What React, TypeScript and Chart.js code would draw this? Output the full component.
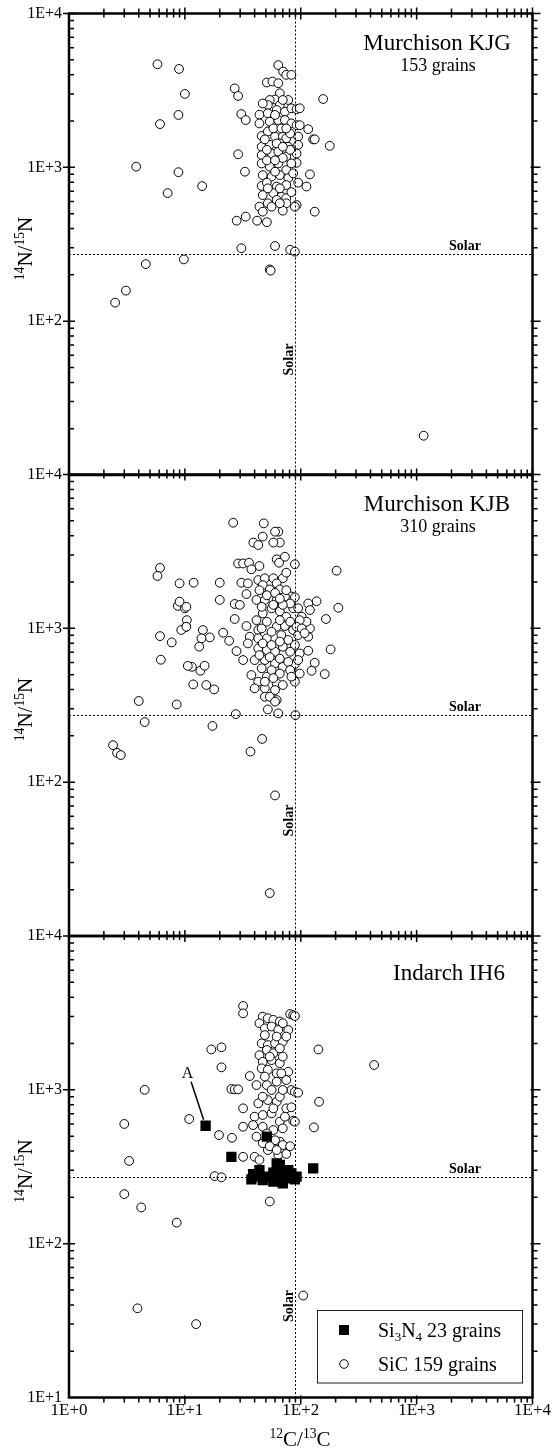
import { useEffect, useRef } from 'react';
import { Chart, registerables } from 'chart.js';

Chart.register(...registerables);

type Pt = [number, number];

const W = 553;
const H = 1451;
const PLOT_LEFT = 69;
const PLOT_RIGHT = 532.5;
const PANEL_TOPS = [13.5, 474.5, 936];
const PANEL_H = 461.5;
const FONT = '"Liberation Serif", "Times New Roman", serif';

const xTickValues = [1, 10, 100, 1000, 10000];
const xTickLabels = ['1E+0', '1E+1', '1E+2', '1E+3', '1E+4'];
const yTickValues = [10, 100, 1000, 10000];
const yTickLabels = ['1E+1', '1E+2', '1E+3', '1E+4'];
const solarC = 89;
const solarN = 272;

// Murchison KJG, SiC grains [12C/13C, 14N/15N]
const kjgSiC: Pt[] = [
  [5.8, 4680], [8.9, 4360], [10, 3000], [8.8, 2190], [6.1, 1910], [3.8, 1010], [8.8, 930], [7.1, 680],
  [4.6, 235], [9.8, 252], [3.1, 158], [2.5, 132], [14.1, 755], [1150, 18],
  [64, 4620], [70.5, 4190], [75, 3990], [83, 3990], [51, 3560], [57, 3610], [64, 3520], [26.9, 3260],
  [28.8, 2910], [66, 3030], [156, 2780], [60, 2760], [54, 2740], [78, 2740], [52, 2540], [66, 2540],
  [30.7, 2220], [33.5, 2030], [44, 2200], [52, 2245], [62, 2360], [73, 2300], [83, 2420], [92, 2390],
  [98, 2420], [44, 1930], [54, 1980], [64, 2030], [73, 2030], [83, 1930], [92, 1880], [98, 1880],
  [116, 1770], [46, 1600], [52, 1710], [60, 1585], [70, 1585], [75, 1545], [95, 1585], [128, 1520],
  [132, 1520], [46, 1360], [54, 1400], [66, 1430], [78, 1360], [95, 1400], [178, 1380], [46, 1200],
  [56, 1230], [64, 1265], [75, 1175], [92, 1230], [28.8, 1216], [46, 1060], [54, 1010], [64, 1060],
  [75, 960], [92, 1070], [33, 937], [47, 890], [56, 870], [66, 890], [78, 850], [86, 914], [120, 900],
  [46, 757], [51, 795], [62, 750], [75, 767], [95, 795], [112, 750], [47, 660], [58, 680], [68, 645],
  [75, 630], [44, 555], [52, 584], [62, 614], [75, 584], [92, 569], [89, 555], [47, 515], [70, 523],
  [132, 515], [28, 450], [33.5, 478], [42, 450], [51, 440], [30.7, 298], [60, 308], [81, 291], [89, 283],
  [54, 217], [55, 213], [49, 1520], [58, 1790], [68, 1790], [51, 1110], [70, 1150], [60, 937], [52, 730],
  [66, 730], [83, 690], [56, 555], [66, 584], [81, 1660], [81, 1300], [83, 1060], [47, 2600], [70, 2740],
  [60, 2190], [75, 1790], [62, 1430], [70, 1360], [51, 1300], [60, 1110],
];

// Murchison KJB, SiC grains
const kjbSiC: Pt[] = [
  [26.1, 4860], [48, 4810], [64, 4250], [60, 4250], [66, 3610], [58, 3610], [47, 3950], [39, 3610],
  [43, 3480], [28.8, 2640], [31.8, 2640], [35.8, 2670], [44, 2540], [62, 2810], [73, 2920], [65, 2670],
  [89, 2610], [37.5, 2420], [204, 2370], [11.9, 1980], [20, 1980], [30.7, 1980], [35, 1960], [43, 2060],
  [49, 2115], [58, 2115], [70, 2115], [75, 2300], [47, 1910], [62, 1960], [34, 1670], [44, 1770],
  [54, 1790], [66, 1790], [83, 1610], [89, 1590], [41.5, 1530], [49, 1530], [62, 1530], [73, 1610],
  [20, 1530], [26.9, 1440], [29.8, 1420], [137, 1500], [116, 1450], [211, 1360], [86, 1350], [102, 1190],
  [120, 1315], [165, 1150], [26.9, 1150], [14.3, 975], [16.4, 873], [13.9, 861], [13.3, 760], [21.4, 936],
  [24.1, 830], [34, 1035], [27.9, 711], [31.8, 622], [36.3, 882], [35, 798], [43, 975], [51, 861],
  [62, 1024], [73, 1035], [86, 975], [95, 904], [116, 882], [120, 998], [112, 1104], [43, 741], [51, 722],
  [60, 704], [70, 759], [89, 779], [98, 687], [116, 715], [181, 730], [40, 622], [49, 622], [60, 591],
  [70, 562], [89, 586], [132, 597], [124, 530], [161, 504], [37.5, 497], [43, 450], [51, 485], [62, 439],
  [70, 428], [89, 504], [89, 450], [40, 407], [49, 407], [60, 397], [11.8, 432], [15.3, 428], [17.9, 401],
  [11.5, 562], [13.6, 530], [14.8, 571], [49, 359], [62, 342], [52, 297], [27.5, 277], [64, 280], [90, 273],
  [17.3, 232], [46.4, 191], [36.8, 158], [60, 82], [54, 19],
  [47, 1250], [56, 1350], [66, 1290], [75, 1190], [41.5, 1130], [51, 1104], [66, 1130], [81, 1104],
  [46, 998], [56, 950], [68, 904], [78, 840], [43, 861], [47, 798], [56, 779], [66, 820], [81, 704],
  [44, 670], [54, 650], [66, 635], [78, 605], [46, 550], [56, 535], [66, 508], [81, 535], [49, 450],
  [58, 475], [54, 359], [60, 334], [51, 1640], [60, 1700], [75, 1770], [81, 1450], [70, 1420], [58, 1420],
  [46, 1380], [66, 1560], [95, 1350], [98, 1130], [92, 1024], [95, 622], [83, 485], [98, 508], [102, 998],
  [108, 930],
  [6.1, 2470], [5.8, 2190], [9, 1960], [8.7, 1400], [10, 1350], [10.4, 1130], [10.2, 1020], [6.1, 890],
  [7.7, 810], [6.2, 625], [10.6, 570], [4.0, 337], [4.5, 246], [8.5, 320], [2.4, 174], [2.6, 155],
  [2.8, 150], [9, 1490], [10.3, 1380], [9.3, 975], [10.3, 1024],
];

// Indarch IH6, SiC grains
const ih6SiC: Pt[] = [
  [31.8, 3510], [31.8, 3140], [47, 2990], [52, 2920], [58, 2850], [44, 2710], [66, 2780], [81, 3110],
  [86, 3060], [89, 3020], [49, 2510], [56, 2580], [64, 2450], [78, 2450], [70, 2710], [16.9, 1830],
  [20.7, 1890], [142, 1830], [46, 2005], [52, 1955], [60, 2005], [70, 2060], [44, 1680], [51, 1815],
  [58, 1730], [66, 1860], [20.7, 1400], [47, 1520], [56, 1560], [66, 1490], [78, 1310], [46, 1380],
  [52, 1350], [62, 1280], [36.3, 1230], [41.5, 1074], [51, 1074], [62, 1129], [75, 1158], [83, 997],
  [89, 972], [95, 958], [25.2, 1012], [26.9, 1007], [28.8, 1007], [43, 817], [52, 858], [62, 837],
  [75, 758], [66, 902], [144, 837], [31.8, 758], [40, 669], [47, 686], [56, 703], [66, 621], [86, 630],
  [89, 621], [10.9, 646], [31.8, 576], [38.8, 590], [47, 576], [58, 548], [70, 562], [130, 570],
  [19.7, 508], [25.5, 488], [41.5, 496], [66, 460], [70, 438], [31.8, 367], [40, 367], [44, 350],
  [52, 406], [64, 377], [75, 383], [18.1, 275], [20.7, 270], [54, 188], [8.5, 137],
  [49, 2270], [62, 2220], [75, 2220], [54, 1644], [70, 1644], [49, 1220], [68, 1280], [56, 997], [70, 997],
  [47, 902], [58, 758], [51, 520], [60, 470], [47, 450], [54, 430], [62, 406], [81, 430], [73, 669],
  [83, 770],
  [3.0, 600], [3.3, 345], [4.5, 1000], [3.0, 210], [4.2, 172], [3.9, 38], [12.5, 30], [105, 46],
  [430, 1450],
];

// Indarch IH6, Si3N4 grains
const ih6Si3N4: Pt[] = [
  [15.1, 584], [51, 496], [25.2, 367], [128, 309], [44, 301], [37.5, 262], [41.5, 273], [62, 333],
  [66, 325], [70, 294], [78, 301], [83, 286], [92, 273], [58, 253], [70, 247], [52, 273], [64, 273],
  [75, 266], [89, 262], [47, 259], [58, 289], [66, 259], [38.8, 283],
];
const grainA: Pt = [15.1, 584];

type Part = { t: string; s?: 'sup' | 'sub' };

function drawRich(ctx: CanvasRenderingContext2D, parts: Part[], x: number, y: number, size: number, align: 'left' | 'center', weight = '') {
  let w = 0;
  for (const p of parts) {
    ctx.font = `${weight}${p.s ? size * 0.65 : size}px ${FONT}`;
    w += ctx.measureText(p.t).width;
  }
  let cx = align === 'center' ? x - w / 2 : x;
  ctx.textAlign = 'left';
  ctx.textBaseline = 'alphabetic';
  for (const p of parts) {
    const fs = p.s ? size * 0.65 : size;
    ctx.font = `${weight}${fs}px ${FONT}`;
    const dy = p.s === 'sup' ? -size * 0.38 : p.s === 'sub' ? size * 0.22 : 0;
    ctx.fillText(p.t, cx, y + dy);
    cx += ctx.measureText(p.t).width;
  }
}

interface PanelDef {
  key: string;
  top: number;
  title: string;
  titleX: number;
  titleRel: number;
  subtitle?: string;
  subRel?: number;
  bottomAxis: boolean;
  solarVRel: number;
  legend: boolean;
}

const panels: PanelDef[] = [
  { key: 'kjg', top: PANEL_TOPS[0], title: 'Murchison KJG', titleX: 437, titleRel: 36, subtitle: '153 grains', subRel: 57, bottomAxis: false, solarVRel: 346, legend: false },
  { key: 'kjb', top: PANEL_TOPS[1], title: 'Murchison KJB', titleX: 437, titleRel: 36, subtitle: '310 grains', subRel: 57, bottomAxis: false, solarVRel: 346, legend: false },
  { key: 'ih6', top: PANEL_TOPS[2], title: 'Indarch IH6', titleX: 449, titleRel: 44, bottomAxis: true, solarVRel: 370, legend: true },
];

function makePlugin(p: PanelDef) {
  return {
    id: 'decor_' + p.key,
    afterDatasetsDraw(chart: any) {
      const ctx: CanvasRenderingContext2D = chart.ctx;
      const xs = chart.scales.x;
      const ys = chart.scales.y;
      const { left, right, top, bottom } = chart.chartArea;
      ctx.save();
      ctx.fillStyle = '#000';
      ctx.strokeStyle = '#000';

      // solar dotted lines
      const sx = Math.round(xs.getPixelForValue(solarC)) + 0.5;
      const sy = Math.round(ys.getPixelForValue(solarN)) + 0.5;
      ctx.setLineDash([2, 2]);
      ctx.lineWidth = 1;
      ctx.beginPath();
      ctx.moveTo(left, sy);
      ctx.lineTo(right, sy);
      ctx.moveTo(sx, top);
      ctx.lineTo(sx, bottom);
      ctx.stroke();
      ctx.setLineDash([]);

      // solar labels
      ctx.font = `bold 14px ${FONT}`;
      ctx.textAlign = 'center';
      ctx.textBaseline = 'alphabetic';
      ctx.fillText('Solar', 465, sy - 5);
      ctx.save();
      ctx.translate(sx - 3, p.top + p.solarVRel);
      ctx.rotate(-Math.PI / 2);
      ctx.fillText('Solar', 0, 0);
      ctx.restore();

      // frame
      ctx.lineWidth = 2.5;
      ctx.strokeRect(left, top, right - left, bottom - top);

      // ticks
      ctx.lineWidth = 1.5;
      ctx.beginPath();
      for (let d = 10; d <= 10000; d *= 10) {
        for (let m = 1; m <= 9; m++) {
          const v = d * m;
          if (v > 10000) break;
          if (m === 1 && d === 10) continue;
          const py = ys.getPixelForValue(v);
          if (m === 1) {
            ctx.moveTo(left - 6, py); ctx.lineTo(left + 6, py);
            ctx.moveTo(right - 2, py); ctx.lineTo(right + 8, py);
          } else {
            ctx.moveTo(left, py); ctx.lineTo(left + 5, py);
            ctx.moveTo(right, py); ctx.lineTo(right + 5, py);
          }
        }
      }
      for (let d = 1; d <= 10000; d *= 10) {
        for (let m = 1; m <= 9; m++) {
          const v = d * m;
          if (v > 10000) break;
          if (v === 1) continue;
          const px = xs.getPixelForValue(v);
          if (m === 1) {
            ctx.moveTo(px, top - 6); ctx.lineTo(px, top + 6);
          } else {
            ctx.moveTo(px, top - 5); ctx.lineTo(px, top + 4);
          }
          if (p.bottomAxis) {
            if (m === 1) { ctx.moveTo(px, bottom - 2); ctx.lineTo(px, bottom + 7); }
            else { ctx.moveTo(px, bottom); ctx.lineTo(px, bottom + 5); }
          }
        }
      }
      ctx.stroke();

      // y tick labels
      ctx.font = `16px ${FONT}`;
      ctx.textAlign = 'right';
      ctx.textBaseline = 'middle';
      yTickValues.forEach((v, i) => {
        if (v === 10 && !p.bottomAxis) return;
        ctx.fillText(yTickLabels[i], left - 7, ys.getPixelForValue(v));
      });

      // x tick labels and title
      if (p.bottomAxis) {
        ctx.textAlign = 'center';
        ctx.textBaseline = 'top';
        ctx.font = `17px ${FONT}`;
        xTickValues.forEach((v, i) => {
          ctx.fillText(xTickLabels[i], xs.getPixelForValue(v), bottom + 5);
        });
        drawRich(ctx, [{ t: '12', s: 'sup' }, { t: 'C/' }, { t: '13', s: 'sup' }, { t: 'C' }], 300, 1446, 21, 'center');
      }

      // y title
      ctx.save();
      ctx.translate(32, p.top + 235);
      ctx.rotate(-Math.PI / 2);
      drawRich(ctx, [{ t: '14', s: 'sup' }, { t: 'N/' }, { t: '15', s: 'sup' }, { t: 'N' }], 0, 0, 21, 'center');
      ctx.restore();

      // titles
      ctx.textAlign = 'center';
      ctx.textBaseline = 'alphabetic';
      ctx.font = `23px ${FONT}`;
      ctx.fillText(p.title, p.titleX, p.top + p.titleRel);
      if (p.subtitle) {
        ctx.font = `18px ${FONT}`;
        ctx.fillText(p.subtitle, p.titleX + 1, p.top + (p.subRel as number));
      }

      if (p.legend) {
        // annotation A
        const ax = xs.getPixelForValue(grainA[0]);
        const ay = ys.getPixelForValue(grainA[1]);
        ctx.lineWidth = 1.5;
        ctx.beginPath();
        ctx.moveTo(ax - 14.5, ay - 44);
        ctx.lineTo(ax - 2, ay - 6);
        ctx.stroke();
        ctx.font = `16px ${FONT}`;
        ctx.textAlign = 'center';
        ctx.fillText('A', ax - 18, ay - 48);

        // legend box
        ctx.fillStyle = '#fff';
        ctx.fillRect(317, 1310, 206, 73);
        ctx.lineWidth = 1;
        ctx.strokeStyle = '#222';
        ctx.strokeRect(317.5, 1310.5, 205, 72.5);
        ctx.fillStyle = '#000';
        ctx.fillRect(339, 1325, 10, 10);
        ctx.beginPath();
        ctx.arc(344, 1364, 4.3, 0, Math.PI * 2);
        ctx.fillStyle = '#fff';
        ctx.fill();
        ctx.strokeStyle = '#000';
        ctx.stroke();
        ctx.fillStyle = '#000';
        drawRich(ctx, [{ t: 'Si' }, { t: '3', s: 'sub' }, { t: 'N' }, { t: '4', s: 'sub' }, { t: ' 23 grains' }], 378, 1337, 20, 'left');
        drawRich(ctx, [{ t: 'SiC 159 grains' }], 378, 1371, 20, 'left');
      }
      ctx.restore();
    },
  };
}

function buildConfig(p: PanelDef): any {
  const datasets: any[] = [];
  if (p.key === 'ih6') {
    datasets.push({
      label: 'Si3N4',
      data: ih6Si3N4.map(([x, y]) => ({ x, y })),
      pointStyle: 'rect',
      pointRadius: 7.3,
      backgroundColor: '#000',
      borderColor: '#000',
      borderWidth: 0,
    });
  }
  const sic = p.key === 'kjg' ? kjgSiC : p.key === 'kjb' ? kjbSiC : ih6SiC;
  datasets.push({
    label: 'SiC',
    data: sic.map(([x, y]) => ({ x, y })),
    pointStyle: 'circle',
    pointRadius: 4.4,
    backgroundColor: '#fff',
    borderColor: '#000',
    borderWidth: 1,
  });
  return {
    type: 'scatter',
    data: { datasets },
    options: {
      responsive: false,
      animation: false,
      devicePixelRatio: 1,
      events: [],
      layout: {
        padding: { left: PLOT_LEFT, right: W - PLOT_RIGHT, top: p.top, bottom: H - (p.top + PANEL_H) },
      },
      plugins: { legend: { display: false }, tooltip: { enabled: false } },
      scales: {
        x: { type: 'logarithmic', min: 1, max: 10000, display: false },
        y: { type: 'logarithmic', min: 10, max: 10000, display: false },
      },
    },
    plugins: [makePlugin(p)],
  };
}

function Panel({ def }: { def: PanelDef }) {
  const ref = useRef<HTMLCanvasElement | null>(null);
  useEffect(() => {
    if (!ref.current) return;
    const chart = new Chart(ref.current, buildConfig(def));
    return () => chart.destroy();
  }, [def]);
  return (
    <canvas
      ref={ref}
      width={W}
      height={H}
      style={{ position: 'absolute', left: 0, top: 0, width: W, height: H }}
    />
  );
}

export default function App() {
  return (
    <div style={{ position: 'absolute', left: 0, top: 0, width: W, height: H, background: '#fff' }}>
      {panels.map((p) => (
        <Panel key={p.key} def={p} />
      ))}
    </div>
  );
}
